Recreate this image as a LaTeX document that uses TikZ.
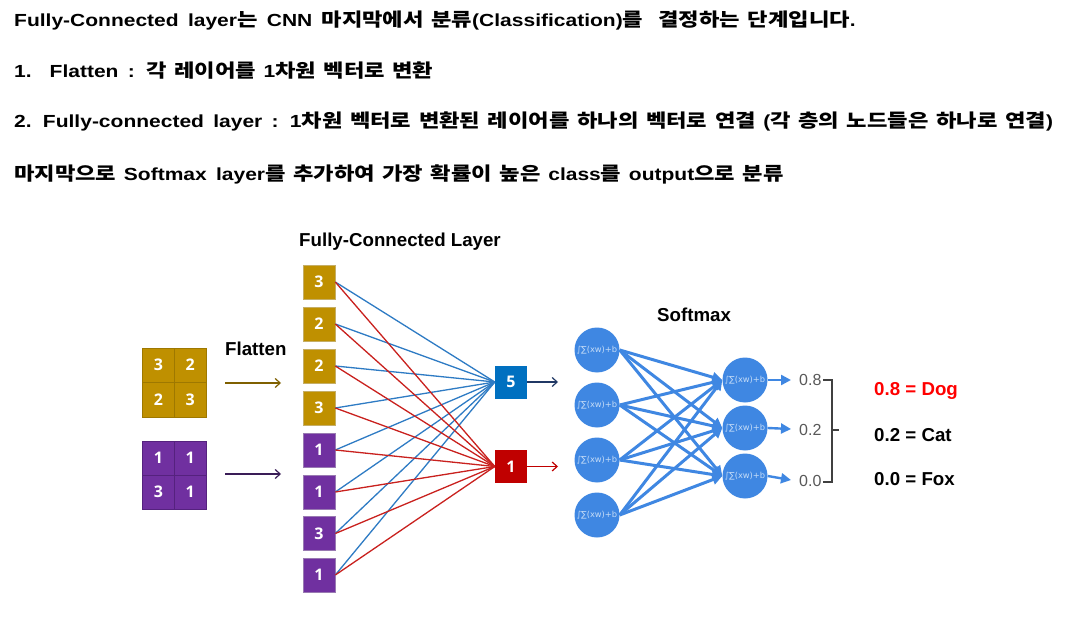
\documentclass[tikz,border=0pt]{standalone}
\usepackage{fontspec}
\setmainfont{Liberation Sans}
\newfontfamily\hd{Liberation Sans}[FakeStretch=1.2, WordSpace=1.6]
\newfontfamily\kr{Noto Sans CJK KR}[FakeStretch=1.2, Scale=1.057, WordSpace=1.5]
\newfontfamily\dv{DejaVu Sans}
\newfontfamily\os{Open Sans}
\usetikzlibrary{arrows.meta}
\definecolor{gold}{HTML}{BF9000}
\definecolor{goldline}{HTML}{9E7800}
\definecolor{purp}{HTML}{7030A0}
\definecolor{purpline}{HTML}{55227E}
\definecolor{bbox}{HTML}{0070C0}
\definecolor{rbox}{HTML}{C00000}
\definecolor{bline}{HTML}{2E7BC4}
\definecolor{rline}{HTML}{C9211E}
\definecolor{smblue}{HTML}{3F87E2}
\definecolor{smtext}{HTML}{C5DCF7}
\definecolor{navy}{HTML}{203864}
\definecolor{garrow}{HTML}{7F6000}
\definecolor{parrow}{HTML}{3A1D57}
\definecolor{grayt}{HTML}{595959}
\definecolor{brk}{HTML}{404040}
\definecolor{dogred}{HTML}{FF0000}
\tikzset{
  txt/.style={inner sep=0pt, anchor=base west, font=\fontsize{18.7}{20}\selectfont\bfseries},
  head/.style={inner sep=0pt, anchor=base west, font=\hd\fontsize{17.5}{20}\selectfont\bfseries},
  cellbox/.style={minimum width=31.6pt, minimum height=34.5pt, inner sep=0pt, text=white, font=\os\fontsize{16}{16}\selectfont\bfseries},
  goldcell/.style={cellbox, fill=gold, draw=goldline, line width=0.8pt},
  purpcell/.style={cellbox, fill=purp, draw=purpline, line width=0.8pt},
  fcgold/.style={cellbox, minimum width=32pt, minimum height=34pt, fill=gold, draw=goldline!60, line width=0.6pt},
  fcpurp/.style={cellbox, minimum width=32pt, minimum height=34pt, fill=purp, draw=purpline!60, line width=0.6pt},
  outbox/.style={cellbox, minimum width=32pt, minimum height=33pt},
  fcb/.style={bline, line width=1.3pt},
  fcr/.style={rline, line width=1.3pt},
  sm/.style={circle, fill=smblue, minimum size=45pt, inner sep=0pt, text=smtext, font=\dv\fontsize{8.3}{8.3}\selectfont},
  smedge/.style={smblue, line width=3pt, -{Triangle[length=10pt,width=10pt]}},
  prob/.style={inner sep=0pt, anchor=west, text=grayt, font=\fontsize{16}{16}\selectfont},
  flat/.style={line width=1.2pt, -{Straight Barb[length=5pt,width=9pt]}},
}
\begin{document}
\begin{tikzpicture}[x=1pt,y=-1pt]
\useasboundingbox[fill=white] (0,0) rectangle (1068,620);

% header text
\node[head] (t1) at (14,27) {Fully-Connected layer{\kr 는} CNN {\kr 마지막에서 분류}(Classification){\kr 를\ \ 결정하는 단계입니다}.};
\node[head] (t2) at (14,78) {1.\hspace{18pt}Flatten : {\kr 각 레이어를 }1{\kr 차원 벡터로 변환}};
\node[head] (t3) at (14,128) {2. Fully-connected layer : 1{\kr 차원 벡터로 변환된 레이어를 하나의 벡터로 연결 }({\kr 각 층의 노드들은 하나로 연결})};
\node[head] (t4) at (14,181) {{\kr 마지막으로 }Softmax layer{\kr 를 추가하여 가장 확률이 높은 }class{\kr 를 }output{\kr 으로 분류}};

% 2x2 grids
\node[goldcell] (g11) at (158.5,365.2) {3};
\node[goldcell] (g12) at (190.1,365.2) {2};
\node[goldcell] (g21) at (158.5,399.7) {2};
\node[goldcell] (g22) at (190.1,399.7) {3};
\node[purpcell, minimum height=34pt] (p11) at (158.5,458) {1};
\node[purpcell, minimum height=34pt] (p12) at (190.1,458) {1};
\node[purpcell, minimum height=34pt] (p21) at (158.5,492) {3};
\node[purpcell, minimum height=34pt] (p22) at (190.1,492) {1};

\node[txt] (flat) at (225,355) {Flatten};
\coordinate (ga0) at (225,383);
\coordinate (ga1) at (281,383);
\coordinate (pa0) at (225,474);
\coordinate (pa1) at (281,474);
\draw[flat, garrow] (ga0) -- (ga1);
\draw[flat, parrow] (pa0) -- (pa1);

% FC column
\node[txt] (fcl) at (299,247) {Fully-Connected Layer};
\node[fcgold] (f1) at (319,282) {3};
\node[fcgold] (f2) at (319,324) {2};
\node[fcgold] (f3) at (319,366) {2};
\node[fcgold] (f4) at (319,408) {3};
\node[fcpurp] (f5) at (319,450) {1};
\node[fcpurp] (f6) at (319,492) {1};
\node[fcpurp] (f7) at (319,533.5) {3};
\node[fcpurp] (f8) at (319,575) {1};

\node[outbox, fill=bbox] (b5) at (511,382) {5};
\node[outbox, fill=rbox] (r1) at (511,466.5) {1};

\foreach \i in {1,...,8} {
  \draw[fcb] (f\i.east) -- (b5.west);
}
\foreach \i in {1,...,8} {
  \draw[fcr] (f\i.east) -- (r1.west);
}

\coordinate (b5o) at (558,382);
\coordinate (r1o) at (558,466.5);
\draw[flat, navy] (b5.east) -- (b5o);
\draw[flat, rbox] (r1.east) -- (r1o);

% Softmax
\node[txt] (smt) at (657,322) {Softmax};
\node[sm] (L1) at (597,350) {∫∑(xw)+b};
\node[sm] (L2) at (597,405) {∫∑(xw)+b};
\node[sm] (L3) at (597,460) {∫∑(xw)+b};
\node[sm] (L4) at (597,515) {∫∑(xw)+b};
\node[sm] (R1) at (745,380) {∫∑(xw)+b};
\node[sm] (R2) at (745,428) {∫∑(xw)+b};
\node[sm] (R3) at (745,476) {∫∑(xw)+b};
\foreach \i in {1,...,4} {
  \foreach \j in {1,2,3} {
    \draw[smedge] (L\i.east) -- (R\j.west);
  }
}
\coordinate (o1) at (791,380);
\coordinate (o2) at (791,429);
\coordinate (o3) at (791,480);
\draw[smedge, line width=2.4pt] (R1.east) -- (o1);
\draw[smedge, line width=2.4pt] (R2.east) -- (o2);
\draw[smedge, line width=2.4pt] (R3.east) -- (o3);
\node[prob] (v1) at (799,380) {0.8};
\node[prob] (v2) at (799,430) {0.2};
\node[prob] (v3) at (799,481) {0.0};

% bracket
\coordinate (k1) at (823,380);
\coordinate (k2) at (832,380);
\coordinate (k3) at (832,482);
\coordinate (k4) at (823,482);
\coordinate (km) at (832,430);
\coordinate (kr) at (839,430);
\draw[brk, line width=1.4pt] (k1) -- (k2) -- (k3) -- (k4);
\draw[brk, line width=1.4pt] (km) -- (kr);

\node[txt, text=dogred] (dog) at (874,395) {0.8 = Dog};
\node[txt] (cat) at (874,441) {0.2 = Cat};
\node[txt] (fox) at (874,485) {0.0 = Fox};
\end{tikzpicture}
\end{document}
